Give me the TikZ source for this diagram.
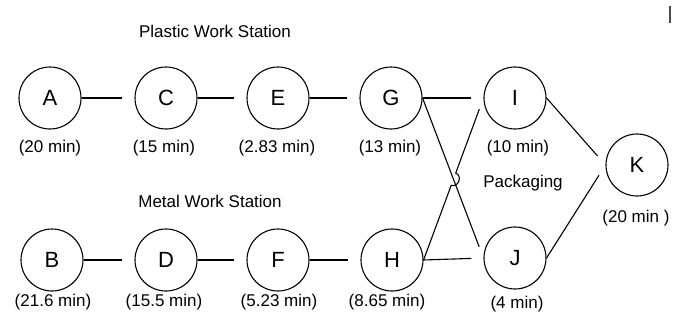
\documentclass[tikz,border=0pt]{standalone}
\usepackage{fontspec}
\setmainfont{Liberation Sans}
\usetikzlibrary{calc}

\tikzset{
    stn/.style={draw, circle, line width=1.1pt, minimum size=62pt, inner sep=0pt, font=\fontsize{22}{25}\selectfont},
    tm/.style={inner sep=0pt, font=\fontsize{17}{20}\selectfont},
    link/.style={line width=1.1pt, shorten >=12pt},
}

\begin{document}
\begin{tikzpicture}[x=1pt, y=-1pt]
    \useasboundingbox (0,0) rectangle (673,322);

    % Titles of the stations
    \node[tm] (plastic) at (215,31) {Plastic Work Station};
    \node[tm] (metal) at (210,201) {Metal Work Station};
    \node[tm] (pack) at (523,183) {Packaging};

    % Plastic line
    \node[stn] (A) at (50,98) {A};
    \node[stn] (C) at (166,98) {C};
    \node[stn] (E) at (278,98) {E};
    \node[stn] (G) at (391,98) {G};
    \node[tm] (tA) at (50,148) {(20 min)};
    \node[tm] (tC) at (164,148) {(15 min)};
    \node[tm] (tE) at (277,148) {(2.83 min)};
    \node[tm] (tG) at (390,148) {(13 min)};

    % Metal line
    \node[stn] (B) at (52,260) {B};
    \node[stn] (D) at (166,260) {D};
    \node[stn] (F) at (278,260) {F};
    \node[stn] (H) at (392,260) {H};
    \node[tm] (tB) at (53,302) {(21.6 min)};
    \node[tm] (tD) at (164,302) {(15.5 min)};
    \node[tm] (tF) at (279,302) {(5.23 min)};
    \node[tm] (tH) at (387,302) {(8.65 min)};

    % Packaging
    \node[stn] (I) at (515,98) {I};
    \node[stn] (J) at (515,258) {J};
    \node[stn] (K) at (637,165) {K};
    \node[tm] (tI) at (518,148) {(10 min)};
    \node[tm] (tJ) at (517,304) {(4 min)};
    \node[tm] (tK) at (636,218) {(20 min )};

    % Straight links
    \draw[link] (A.east) -- (C.west);
    \draw[link] (C.east) -- (E.west);
    \draw[link] (E.east) -- (G.west);
    \draw[link] (B.east) -- (D.west);
    \draw[link] (D.east) -- (F.west);
    \draw[link] (F.east) -- (H.west);
    \draw[link] (G.east) -- (I.west);
    \draw[link] (H.east) -- (J.west);
    \draw[link] (G.east) -- (J.west);
    \draw[link] (I.east) -- (K.west);
    \draw[link] (J.east) -- (K.west);

    % Crossing link with a hop
    \coordinate (X) at (intersection of G.east--J.west and H.east--I.west);
    \draw[link] (H.east) -- ($(X)!6.5pt!(H.east)$)
        to[bend right=90, looseness=1.5] ($(X)!6.5pt!(I.west)$) -- (I.west);

    % Mark at the top right
    \fill[black!70] (669,6) rectangle (671,23);
\end{tikzpicture}
\end{document}
